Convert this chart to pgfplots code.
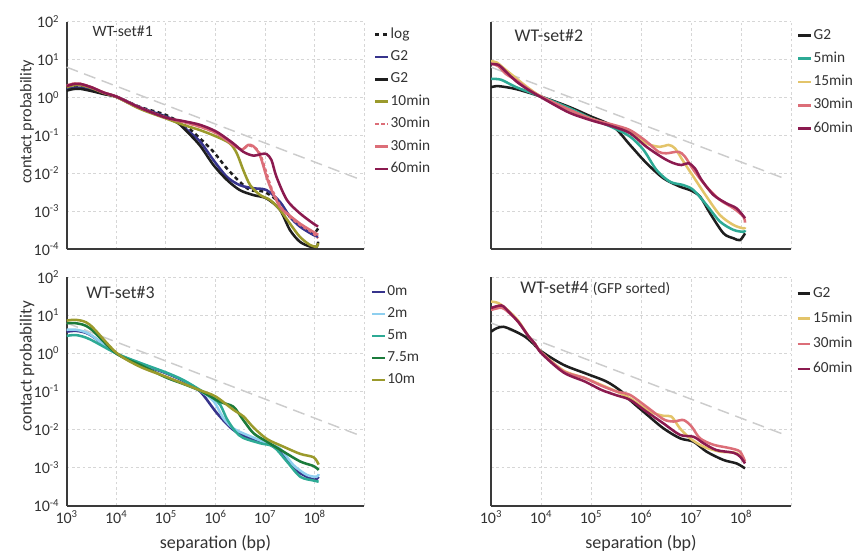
\documentclass[border=0pt]{standalone}
\usepackage{pgfplots}
\pgfplotsset{compat=1.18}
\usepackage{fontspec}
\setmainfont{Carlito}

\definecolor{cnavy}{HTML}{37348C}
\definecolor{cblack}{HTML}{1E1E1E}
\definecolor{colive}{HTML}{9B9A2C}
\definecolor{cpink}{HTML}{DC6E78}
\definecolor{cmaroon}{HTML}{8B1A4F}
\definecolor{cteal}{HTML}{2DAA95}
\definecolor{cgold}{HTML}{E3C46A}
\definecolor{clblue}{HTML}{8ECFEF}
\definecolor{cgreen}{HTML}{1B7B3B}
\definecolor{cref}{HTML}{CCCCCC}
\definecolor{cgrid}{HTML}{D6D6D6}
\definecolor{caxis}{HTML}{3A3A3A}
\definecolor{ctext}{HTML}{333333}

\tikzset{ttl/.style={anchor=west, inner sep=0pt, text=ctext}}

\pgfplotsset{
  panel/.style={
    scale only axis, anchor=south west,
    xmin=3, xmax=9, ymin=-4, ymax=2,
    xtick={3,4,5,6,7,8,9}, ytick={-4,-3,-2,-1,0,1,2},
    axis x line=bottom, axis y line=left,
    axis line style={-, line width=1.5pt, color=caxis},
    major tick length=0pt,
    grid=major,
    major grid style={cgrid, line width=0.7pt, dash pattern=on 2pt off 2pt},
    tick label style={font=\fontsize{12}{14}\selectfont, text=ctext},
    label style={text=ctext},
    xticklabels={}, yticklabels={},
    legend cell align=left,
    legend image code/.code={\draw[##1] (0pt,0pt) -- (9.5pt,0pt);},
    legend style={draw=none, fill=none, font=\fontsize{11.5}{13}\selectfont, text=ctext,
      anchor=north west, nodes={inner sep=1pt, text height=8pt, text depth=2.5pt}},
    every axis plot/.append style={line width=1.9pt, smooth},
  },
  leftpanel/.style={
    yticklabels={10\textsuperscript{-4},10\textsuperscript{-3},10\textsuperscript{-2},10\textsuperscript{-1},10\textsuperscript{0},10\textsuperscript{1},10\textsuperscript{2}},
    yticklabel style={xshift=-2pt},
    ylabel={contact probability},
  },
  bottompanel/.style={
    xticklabels={10\textsuperscript{3},10\textsuperscript{4},10\textsuperscript{5},10\textsuperscript{6},10\textsuperscript{7},10\textsuperscript{8},{}},
    xlabel={separation (bp)},
    xlabel style={at={(axis description cs:0.5,-0.163)}, anchor=center, font=\fontsize{13.5}{16}\selectfont},
  },
  refline/.style={cref, line width=1.1pt, dash pattern=on 9pt off 5pt, forget plot, sharp plot},
}

\begin{document}
\begin{tikzpicture}
\useasboundingbox (0,0) rectangle (641.25pt,417.75pt);

% ---------------- Panel 1 ----------------
\begin{axis}[panel, leftpanel, at={(50pt,230.8pt)}, width=223.2pt, height=170.7pt,
  ylabel style={at={(axis description cs:-0.133,0.56)}, anchor=center, font=\fontsize{12.2}{14}\selectfont},
  legend style={at={(1.019,0.993)}, row sep=4.3pt}]
\addplot[refline] coordinates {(3,0.80) (8.93,-2.165)};
\addplot[cblack, dash pattern=on 3pt off 2.5pt] coordinates {
(3.00,0.24) (3.12,0.28) (3.27,0.29) (3.50,0.22) (3.75,0.12) (4.01,0.02) (4.48,-0.25) (5.00,-0.46) (5.42,-0.77) (5.69,-1.08) (5.96,-1.43) (6.23,-1.87) (6.49,-2.22) (6.70,-2.44) (6.97,-2.48) (7.23,-2.70) (7.50,-3.14) (7.77,-3.45) (7.97,-3.58) (8.07,-3.45)};
\addlegendentry{log}
\addplot[cnavy] coordinates {
(3.00,0.21) (3.12,0.25) (3.27,0.26) (3.50,0.20) (3.75,0.10) (4.01,0.02) (4.48,-0.26) (5.00,-0.50) (5.25,-0.65) (5.45,-0.88) (5.69,-1.16) (5.96,-1.65) (6.23,-2.09) (6.49,-2.31) (6.76,-2.39) (7.03,-2.44) (7.30,-2.75) (7.50,-3.14) (7.70,-3.40) (7.97,-3.62) (8.07,-3.67)};
\addlegendentry{G2}
\addplot[cblack] coordinates {
(3.00,0.18) (3.12,0.22) (3.27,0.23) (3.50,0.17) (3.75,0.09) (4.01,0.01) (4.48,-0.28) (5.00,-0.52) (5.25,-0.68) (5.45,-0.93) (5.69,-1.27) (5.96,-1.78) (6.23,-2.17) (6.49,-2.44) (6.76,-2.57) (7.03,-2.66) (7.30,-2.96) (7.50,-3.49) (7.70,-3.80) (7.91,-3.93) (8.04,-3.93) (8.07,-3.80)};
\addlegendentry{G2}
\addplot[colive] coordinates {
(3.00,0.27) (3.12,0.32) (3.27,0.33) (3.50,0.25) (3.75,0.12) (4.01,0.01) (4.48,-0.30) (5.00,-0.55) (5.35,-0.72) (5.69,-0.86) (6.02,-1.03) (6.29,-1.21) (6.43,-1.47) (6.56,-1.91) (6.70,-2.31) (6.90,-2.57) (7.10,-2.70) (7.30,-2.96) (7.50,-3.32) (7.70,-3.67) (7.91,-3.89) (8.04,-3.93) (8.07,-3.84)};
\addlegendentry{10min}
\addplot[cpink, dash pattern=on 2.5pt off 2pt] coordinates {
(3.00,0.31) (3.12,0.36) (3.27,0.36) (3.50,0.27) (3.75,0.13) (4.01,0.02) (4.48,-0.27) (5.00,-0.53) (5.35,-0.64) (5.69,-0.77) (6.02,-0.94) (6.36,-1.25) (6.53,-1.37) (6.66,-1.26) (6.76,-1.30) (6.86,-1.40) (6.93,-1.60) (7.03,-2.00) (7.13,-2.40) (7.30,-2.85) (7.44,-3.08) (7.70,-3.35) (7.97,-3.57) (8.07,-3.71)};
\addlegendentry{30min}
\addplot[cpink] coordinates {
(3.00,0.31) (3.12,0.36) (3.27,0.36) (3.50,0.27) (3.75,0.13) (4.01,0.02) (4.48,-0.27) (5.00,-0.53) (5.35,-0.64) (5.69,-0.77) (6.02,-0.94) (6.36,-1.25) (6.53,-1.37) (6.66,-1.25) (6.76,-1.28) (6.86,-1.43) (6.93,-1.65) (7.03,-2.09) (7.13,-2.44) (7.30,-2.88) (7.44,-3.05) (7.70,-3.32) (7.97,-3.54) (8.07,-3.62)};
\addlegendentry{30min}
\addplot[cmaroon] coordinates {
(3.00,0.30) (3.12,0.35) (3.27,0.36) (3.50,0.27) (3.75,0.13) (4.01,0.02) (4.48,-0.27) (5.00,-0.53) (5.35,-0.62) (5.69,-0.72) (6.02,-0.90) (6.36,-1.21) (6.56,-1.43) (6.76,-1.53) (6.93,-1.49) (7.03,-1.49) (7.13,-1.65) (7.23,-2.09) (7.44,-2.70) (7.70,-3.05) (7.97,-3.32) (8.07,-3.40)};
\addlegendentry{60min}
\node[ttl, font=\fontsize{11.8}{14}\selectfont] at (axis description cs:0.086,0.956) {WT-set\#1};
\end{axis}

% ---------------- Panel 2 ----------------
\begin{axis}[panel, at={(368.25pt,230.8pt)}, width=225pt, height=170.7pt,
  legend style={at={(1.006,0.989)}, row sep=4.95pt}]
\addplot[refline] coordinates {(3,0.80) (8.93,-2.165)};
\addplot[cblack] coordinates {
(3.00,0.27) (3.15,0.30) (3.51,0.22) (4.01,0.02) (4.55,-0.24) (5.00,-0.50) (5.45,-0.77) (5.78,-1.25) (6.11,-1.73) (6.45,-2.13) (6.78,-2.35) (6.98,-2.44) (7.18,-2.61) (7.38,-3.05) (7.65,-3.58) (7.85,-3.71) (7.98,-3.76) (8.08,-3.58)};
\addlegendentry{G2}
\addplot[cteal] coordinates {
(3.00,0.49) (3.20,0.47) (3.51,0.27) (4.01,0.02) (4.55,-0.27) (5.00,-0.55) (5.45,-0.80) (5.78,-1.03) (6.05,-1.38) (6.31,-1.91) (6.58,-2.22) (6.85,-2.31) (7.05,-2.44) (7.31,-2.83) (7.58,-3.27) (7.85,-3.49) (8.05,-3.54) (8.08,-3.50)};
\addlegendentry{5min}
\addplot[cgold] coordinates {
(3.00,0.96) (3.12,0.92) (3.25,0.78) (3.51,0.50) (3.75,0.25) (4.01,0.02) (4.55,-0.32) (5.00,-0.56) (5.45,-0.75) (5.78,-0.90) (6.11,-1.21) (6.38,-1.30) (6.55,-1.25) (6.68,-1.34) (6.85,-1.69) (7.05,-2.09) (7.31,-2.61) (7.58,-3.10) (7.85,-3.36) (8.05,-3.45) (8.08,-3.42)};
\addlegendentry{15min}
\addplot[cpink] coordinates {
(3.00,0.90) (3.15,0.82) (3.30,0.62) (3.51,0.45) (3.75,0.22) (4.01,0.02) (4.55,-0.31) (5.00,-0.56) (5.45,-0.72) (5.78,-0.86) (6.11,-1.16) (6.35,-1.43) (6.51,-1.47) (6.75,-1.43) (6.88,-1.56) (7.05,-1.91) (7.31,-2.35) (7.58,-2.70) (7.85,-2.92) (8.05,-3.14) (8.08,-3.30)};
\addlegendentry{30min}
\addplot[cmaroon] coordinates {
(3.00,0.88) (3.15,0.86) (3.30,0.68) (3.51,0.42) (3.75,0.20) (4.01,0.00) (4.55,-0.39) (5.00,-0.60) (5.45,-0.77) (5.78,-0.94) (6.11,-1.30) (6.45,-1.60) (6.65,-1.73) (6.81,-1.78) (6.95,-1.73) (7.08,-1.87) (7.21,-2.17) (7.45,-2.57) (7.71,-2.79) (7.91,-2.92) (8.08,-3.18)};
\addlegendentry{60min}
\node[ttl, font=\fontsize{13.4}{16}\selectfont] at (axis description cs:0.078,0.941) {WT-set\#2};
\end{axis}

% ---------------- Panel 3 ----------------
\begin{axis}[panel, leftpanel, bottompanel, at={(50pt,38.5pt)}, width=223.2pt, height=171.3pt,
  ylabel style={at={(axis description cs:-0.133,0.61)}, anchor=center, font=\fontsize{12.8}{15}\selectfont},
  legend style={at={(1.008,0.984)}, row sep=4.0pt}]
\addplot[refline] coordinates {(3,0.80) (8.93,-2.165)};
\addplot[cnavy] coordinates {
(3.00,0.57) (3.20,0.59) (3.47,0.49) (4.00,0.00) (4.48,-0.27) (5.00,-0.52) (5.35,-0.72) (5.69,-1.00) (6.03,-1.57) (6.36,-2.01) (6.70,-2.23) (7.04,-2.36) (7.30,-2.58) (7.57,-3.02) (7.84,-3.24) (8.01,-3.32) (8.08,-3.24)};
\addlegendentry{0m}
\addplot[clblue] coordinates {
(3.00,0.62) (3.20,0.62) (3.47,0.50) (4.00,0.00) (4.48,-0.25) (5.00,-0.50) (5.35,-0.70) (5.69,-0.98) (5.96,-1.25) (6.16,-1.70) (6.36,-1.97) (6.56,-2.10) (7.04,-2.36) (7.30,-2.50) (7.57,-2.93) (7.84,-3.19) (8.04,-3.24) (8.08,-3.17)};
\addlegendentry{2m}
\addplot[cteal] coordinates {
(3.00,0.46) (3.20,0.48) (3.47,0.37) (4.00,0.00) (4.48,-0.25) (5.00,-0.50) (5.35,-0.70) (5.69,-0.96) (5.96,-1.18) (6.10,-1.36) (6.23,-1.72) (6.40,-2.05) (6.56,-2.22) (6.90,-2.36) (7.17,-2.45) (7.44,-2.84) (7.71,-3.24) (7.98,-3.34) (8.08,-3.37)};
\addlegendentry{5m}
\addplot[cgreen] coordinates {
(3.00,0.79) (3.20,0.79) (3.47,0.66) (4.00,0.00) (4.48,-0.30) (5.00,-0.63) (5.35,-0.80) (5.69,-0.98) (6.09,-1.27) (6.36,-1.40) (6.56,-1.75) (6.77,-2.10) (7.04,-2.32) (7.37,-2.58) (7.71,-2.84) (7.98,-2.96) (8.08,-3.06)};
\addlegendentry{7.5m}
\addplot[colive] coordinates {
(3.00,0.86) (3.20,0.88) (3.47,0.75) (4.00,0.02) (4.48,-0.35) (5.00,-0.61) (5.42,-0.83) (5.69,-0.97) (6.00,-1.13) (6.36,-1.48) (6.56,-1.65) (6.77,-1.95) (7.04,-2.25) (7.37,-2.45) (7.71,-2.64) (7.98,-2.73) (8.08,-2.92)};
\addlegendentry{10m}
\node[ttl, font=\fontsize{13.4}{16}\selectfont] at (axis description cs:0.065,0.934) {WT-set\#3};
\end{axis}

% ---------------- Panel 4 ----------------
\begin{axis}[panel, bottompanel, at={(368.25pt,38.5pt)}, width=225pt, height=171.3pt,
  legend style={at={(1.004,0.979)}, row sep=6.45pt}]
\addplot[refline] coordinates {(3,0.80) (8.93,-2.165)};
\addplot[cblack] coordinates {
(3.00,0.57) (3.11,0.66) (3.25,0.70) (3.45,0.60) (3.68,0.44) (3.85,0.25) (4.01,0.05) (4.45,-0.30) (4.88,-0.52) (5.31,-0.74) (5.61,-1.00) (5.80,-1.25) (6.11,-1.60) (6.45,-1.97) (6.78,-2.23) (7.05,-2.32) (7.31,-2.58) (7.65,-2.80) (7.91,-2.89) (8.08,-3.02)};
\addlegendentry{G2}
\addplot[cgold] coordinates {
(3.00,1.36) (3.15,1.32) (3.35,1.12) (3.55,0.85) (3.75,0.45) (3.88,0.25) (4.01,0.02) (4.45,-0.45) (4.88,-0.65) (5.21,-0.83) (5.51,-1.00) (5.78,-1.18) (6.18,-1.53) (6.45,-1.64) (6.61,-1.66) (6.78,-1.97) (6.98,-2.23) (7.25,-2.45) (7.58,-2.58) (7.91,-2.62) (8.08,-2.84)};
\addlegendentry{15min}
\addplot[cpink] coordinates {
(3.00,1.14) (3.21,1.20) (3.35,1.08) (3.55,0.82) (3.75,0.45) (3.88,0.25) (4.01,0.02) (4.45,-0.47) (4.88,-0.65) (5.21,-0.85) (5.51,-1.00) (5.78,-1.09) (6.11,-1.40) (6.45,-1.73) (6.65,-1.79) (6.85,-1.75) (7.01,-1.92) (7.18,-2.23) (7.45,-2.40) (7.78,-2.49) (7.98,-2.58) (8.08,-2.84)};
\addlegendentry{30min}
\addplot[cmaroon] coordinates {
(3.00,1.19) (3.21,1.26) (3.35,1.10) (3.55,0.82) (3.75,0.45) (3.88,0.25) (4.01,0.00) (4.45,-0.50) (4.88,-0.74) (5.21,-0.96) (5.51,-1.10) (5.78,-1.22) (6.11,-1.53) (6.45,-1.84) (6.78,-2.14) (7.05,-2.19) (7.25,-2.36) (7.51,-2.54) (7.85,-2.61) (7.98,-2.71) (8.08,-2.89)};
\addlegendentry{60min}
\node[ttl, font=\fontsize{13.4}{16}\selectfont] at (axis description cs:0.097,0.952) {WT-set\#4 {\fontsize{11.5}{13}\selectfont (GFP sorted)}};
\end{axis}
\end{tikzpicture}
\end{document}
